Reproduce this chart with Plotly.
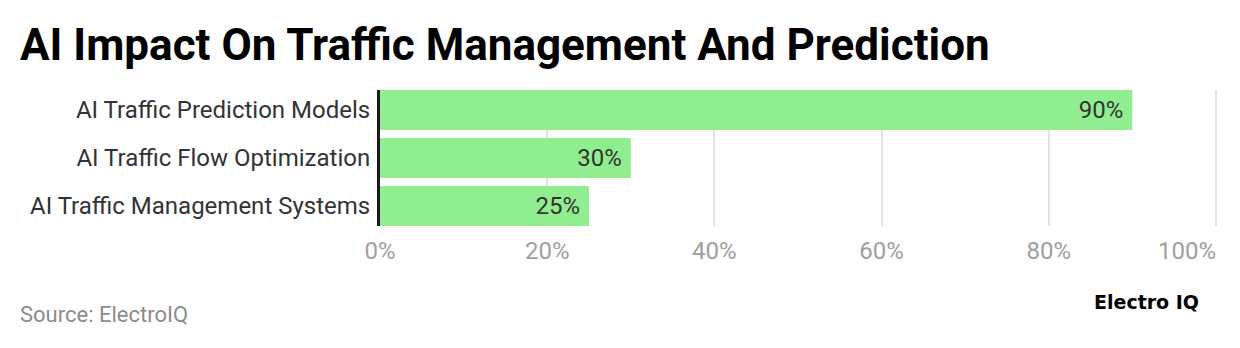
import plotly.graph_objects as go

categories = ["AI Traffic Prediction Models", "AI Traffic Flow Optimization", "AI Traffic Management Systems"]
values = [90, 30, 25]
x_ticks = [0, 20, 40, 60, 80, 100]
x_tick_labels = ["0%", "20%", "40%", "60%", "80%", "100%"]

title_text = "AI Impact On Traffic Management And Prediction"
source_text = "Source: ElectroIQ"
logo_text = "Electro IQ"

W, H = 1240, 348
L, R, T, B = 380, 22, 90, 122
gap = 1 / 6
x_max = 100.25
tick_font = dict(family="Roboto", size=24, color="#a0a0a0")

# last tick label is right-aligned to its gridline (drawn as an annotation at that tick)
tick_text_display = x_tick_labels[:-1] + [""]

fig = go.Figure()
fig.add_trace(go.Bar(
    y=categories,
    x=values,
    orientation="h",
    marker=dict(color="#90EE90", line=dict(width=0)),
    text=[f"{v}%\u00a0" for v in values],
    textposition="inside",
    insidetextanchor="end",
    textfont=dict(family="Roboto", size=24, color="#333333"),
    cliponaxis=False,
    hoverinfo="skip",
))

fig.update_layout(
    width=W, height=H,
    margin=dict(l=L, r=R, t=T, b=B, pad=0, autoexpand=False),
    paper_bgcolor="white",
    plot_bgcolor="white",
    bargap=gap,
    showlegend=False,
    font=dict(family="Roboto", color="#333333"),
    title=dict(
        text=title_text,
        xref="container", yref="container",
        x=20 / W, xanchor="left",
        y=1 - 45 / H, yanchor="middle",
        font=dict(family="Roboto", size=44, color="#000000", weight="bold"),
        pad=dict(l=0, r=0, t=0, b=0),
    ),
    xaxis=dict(
        range=[0, x_max],
        tickvals=x_ticks,
        ticktext=tick_text_display,
        showgrid=True,
        gridcolor="#e3e3e3",
        gridwidth=2,
        zeroline=False,
        showline=False,
        ticks="",
        tickfont=tick_font,
        ticklabelstandoff=8,
        automargin=False,
        fixedrange=True,
    ),
    yaxis=dict(
        type="category",
        categoryorder="array",
        categoryarray=categories,
        range=[2.5 - gap / 2, -0.5 + gap / 2],
        showline=True,
        linecolor="#1a1a1a",
        linewidth=3,
        showgrid=False,
        ticks="",
        tickfont=dict(family="Roboto", size=24, color="#333333"),
        ticklabelstandoff=2,
        automargin=False,
        fixedrange=True,
    ),
    annotations=[
        dict(
            text=x_tick_labels[-1],
            xref="x", yref="paper",
            x=x_ticks[-1], y=0,
            xanchor="right", yanchor="top",
            yshift=-9, xshift=2,
            showarrow=False,
            font=tick_font,
        ),
        dict(
            text=source_text,
            xref="paper", yref="paper",
            x=(18 - L) / (W - L - R), y=(H - B - 314) / (H - T - B),
            xanchor="left", yanchor="middle",
            showarrow=False,
            font=dict(family="Roboto", size=22, color="#8c8c8c"),
        ),
        dict(
            text=logo_text,
            xref="paper", yref="paper",
            x=(1201 - L) / (W - L - R), y=(H - B - 302) / (H - T - B),
            xanchor="right", yanchor="middle",
            showarrow=False,
            font=dict(family="DejaVu Sans", size=19, color="#000000", weight="bold"),
        ),
    ],
)

fig.write_html("out.html")
